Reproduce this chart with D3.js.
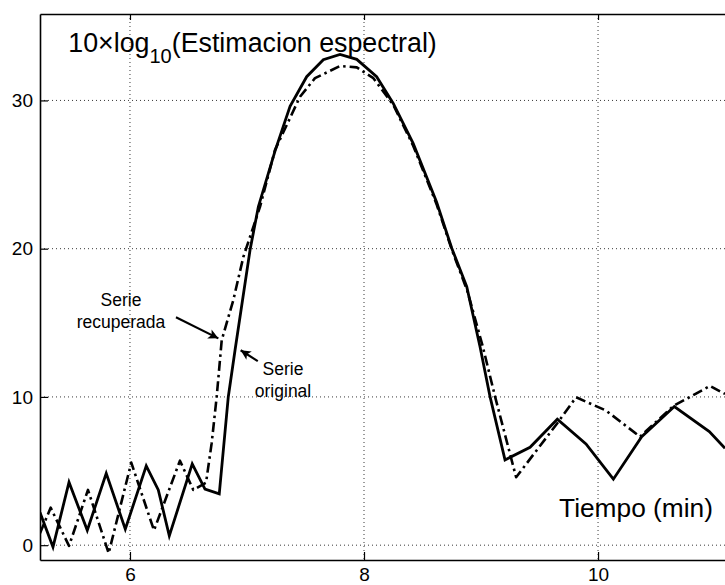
<!DOCTYPE html>
<html>
<head>
<meta charset="utf-8">
<script src="https://cdn.jsdelivr.net/npm/d3@7"></script>
<style>
  html, body { margin: 0; padding: 0; background: #fff; }
  svg { display: block; }
  text { font-family: "Liberation Sans", Arial, Helvetica, sans-serif; fill: #000; }
</style>
</head>
<body>
<svg id="chart" width="725" height="585"></svg>
<script>
// ---- data ----
const tOriginal = [5.231, 5.342, 5.479, 5.635, 5.797, 5.960, 6.139, 6.242, 6.336, 6.532, 6.641, 6.763,
  6.840, 6.898, 7.026, 7.097, 7.240, 7.368, 7.510, 7.652, 7.795, 7.938, 8.108, 8.250, 8.420, 8.620,
  8.750, 8.878, 8.991, 9.077, 9.205, 9.419, 9.652, 9.897, 10.131, 10.373, 10.652, 10.951, 11.085];
const serieOriginal = [2.2, -0.13, 4.25, 1.0, 4.85, 1.08, 5.35, 3.73, 0.63, 5.48, 3.78, 3.46,
  10.0, 13.17, 19.91, 22.83, 26.6, 29.6, 31.6, 32.75, 33.1, 32.77, 31.6, 29.8, 27.1, 23.15,
  20.03, 17.44, 13.4, 10.02, 5.75, 6.6, 8.5, 6.83, 4.45, 7.32, 9.35, 7.66, 6.54];

const tRecuperada = [5.231, 5.322, 5.479, 5.641, 5.818, 6.011, 6.205, 6.427, 6.541, 6.650, 6.698,
  6.741, 6.784, 6.883, 6.969, 7.111, 7.239, 7.453, 7.581, 7.795, 7.938, 8.080, 8.250, 8.420, 8.620,
  8.752, 8.885, 9.015, 9.120, 9.300, 9.652, 9.812, 10.068, 10.359, 10.644, 10.957, 11.085];
const serieRecuperada = [0.8, 2.53, -0.05, 3.73, -0.54, 5.57, 1.0, 5.7, 3.73, 4.22, 6.88,
  10.01, 13.83, 16.53, 19.45, 22.82, 26.65, 30.25, 31.5, 32.32, 32.23, 31.5, 29.7, 26.95, 23.0,
  19.9, 17.1, 13.4, 10.02, 4.58, 8.23, 9.98, 9.08, 7.32, 9.39, 10.74, 10.2];

const xTicks = [6, 8, 10];
const yTicks = [0, 10, 20, 30];
const xDomain = [5.231, 11.085];
const yDomain = [-1, 35.83];

const titleMain = "10\u00d7log";
const titleSub = "10";
const titleRest = "(Estimacion espectral)";
const xLabel = "Tiempo (min)";

// annotations: label lines, label anchor (data), arrow start & tip (data)
const annRecuperada = { lines: ["Serie", "recuperada"], at: [5.923, 16.13], from: [6.393, 15.37], to: [6.755, 13.95] };
const annOriginal = { lines: ["Serie", "original"], at: [7.308, 11.47], from: [7.092, 12.41], to: [6.946, 13.15] };

// ---- layout ----
const W = 725, H = 585;
const m = { left: 40, top: 14, right: 0, bottom: 25 };
const svg = d3.select("#chart");
svg.append("rect").attr("width", W).attr("height", H).attr("fill", "#fff");

const x = d3.scaleLinear().domain(xDomain).range([m.left, W - m.right]);
const y = d3.scaleLinear().domain(yDomain).range([H - m.bottom, m.top]);

const defs = svg.append("defs");
defs.append("clipPath").attr("id", "plotclip")
  .append("rect").attr("x", m.left).attr("y", m.top)
  .attr("width", W - m.right - m.left).attr("height", H - m.bottom - m.top);
defs.append("marker").attr("id", "ah").attr("viewBox", "0 0 10 10")
  .attr("refX", 10).attr("refY", 5).attr("markerWidth", 13).attr("markerHeight", 10)
  .attr("markerUnits", "userSpaceOnUse").attr("orient", "auto")
  .append("path").attr("d", "M0,0 L10,5 L0,10 L2.5,5 Z").attr("fill", "#000");

// grid
const grid = svg.append("g").attr("stroke", "#222").attr("stroke-width", 0.9)
  .attr("stroke-dasharray", "1,3");
grid.selectAll("line.v").data(xTicks).join("line").attr("class", "v")
  .attr("x1", d => x(d)).attr("x2", d => x(d)).attr("y1", m.top).attr("y2", H - m.bottom);
grid.selectAll("line.h").data(yTicks).join("line").attr("class", "h")
  .attr("y1", d => y(d)).attr("y2", d => y(d)).attr("x1", m.left).attr("x2", W - m.right);

// series
const line = d3.line().x(d => x(d[0])).y(d => y(d[1]));
const plot = svg.append("g").attr("clip-path", "url(#plotclip)");
plot.append("path").datum(tRecuperada.map((t, i) => [t, serieRecuperada[i]]))
  .attr("d", line).attr("fill", "none").attr("stroke", "#000").attr("stroke-width", 2.6)
  .attr("stroke-dasharray", "10,4,2.5,4").attr("stroke-linejoin", "round");
plot.append("path").datum(tOriginal.map((t, i) => [t, serieOriginal[i]]))
  .attr("d", line).attr("fill", "none").attr("stroke", "#000").attr("stroke-width", 2.8)
  .attr("stroke-linejoin", "miter");

// axes
const axStyle = g => {
  g.selectAll(".domain").attr("stroke", "#000").attr("stroke-width", 1.6);
  g.selectAll(".tick line").attr("stroke", "#000").attr("stroke-width", 1.2);
  g.selectAll(".tick text").style("font-size", "19px")
    .style("font-family", '"Liberation Sans", Arial, sans-serif');
};
svg.append("g").attr("transform", `translate(0,${H - m.bottom})`)
  .call(d3.axisBottom(x).tickValues(xTicks).tickFormat(d3.format("d"))
    .tickSizeInner(-8).tickSizeOuter(0).tickPadding(8))
  .call(axStyle);
svg.append("g").attr("transform", `translate(0,${m.top})`)
  .call(d3.axisTop(x).tickValues(xTicks).tickSizeInner(-6).tickSizeOuter(0).tickFormat(""))
  .call(axStyle);
svg.append("g").attr("transform", `translate(${m.left},0)`)
  .call(d3.axisLeft(y).tickValues(yTicks).tickFormat(d3.format("d"))
    .tickSizeInner(-8).tickSizeOuter(0).tickPadding(7))
  .call(axStyle);

// title
const title = svg.append("text").attr("x", x(5.4725)).attr("y", y(33.27))
  .style("font-size", "26.8px");
title.append("tspan").text(titleMain);
title.append("tspan").attr("dy", 11).style("font-size", "20px").text(titleSub);
title.append("tspan").attr("dy", -11).text(titleRest);

// x label
svg.append("text").attr("x", x(9.667)).attr("y", y(1.92)).style("font-size", "26.3px").text(xLabel);

// annotations
[annRecuperada, annOriginal].forEach(a => {
  const t = svg.append("text").attr("text-anchor", "middle").style("font-size", "17.5px");
  a.lines.forEach((s, i) => {
    t.append("tspan").attr("x", x(a.at[0])).attr("y", y(a.at[1]) + i * 21.5).text(s);
  });
  svg.append("line").attr("x1", x(a.from[0])).attr("y1", y(a.from[1]))
    .attr("x2", x(a.to[0])).attr("y2", y(a.to[1]))
    .attr("stroke", "#000").attr("stroke-width", 2.2).attr("marker-end", "url(#ah)");
});
</script>
</body>
</html>
